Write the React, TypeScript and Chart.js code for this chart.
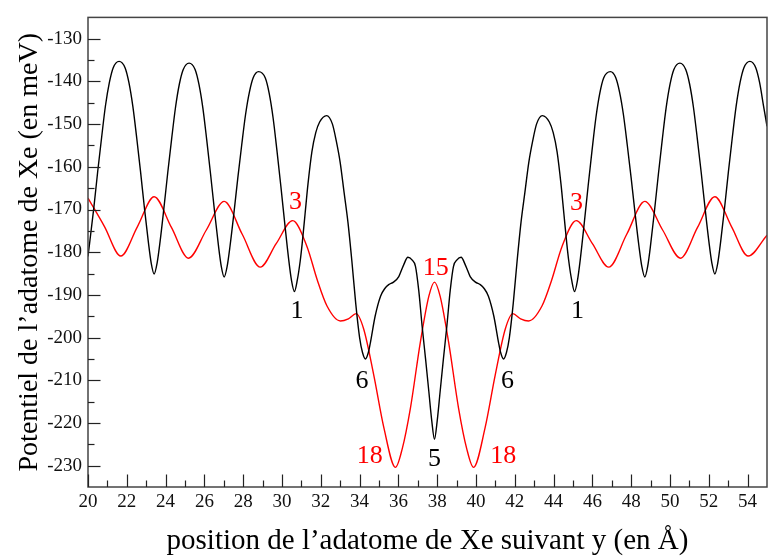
import React, { useEffect, useRef } from "react";
import { Chart, registerables } from "chart.js";

Chart.register(...registerables);

// ---- Data ----
const blackX = [
  20.0, 20.3, 20.5, 20.7, 20.9, 21.1, 21.3, 21.6, 21.91, 22.11, 22.31, 22.51, 22.71, 22.91, 23.11, 23.26, 23.41,
  23.56, 23.71, 23.91, 24.11, 24.31, 24.51, 24.71, 24.91, 25.21, 25.52, 25.72, 25.92, 26.12, 26.32, 26.52, 26.72,
  26.87, 27.02, 27.17, 27.32, 27.52, 27.72, 27.92, 28.12, 28.32, 28.52, 28.79, 29.14, 29.34, 29.54, 29.74, 29.94,
  30.14, 30.34, 30.49, 30.64, 30.79, 30.94, 31.04, 31.19, 31.34, 31.54, 31.74, 31.94, 32.3, 32.6, 32.8, 33.0, 33.2,
  33.4, 33.6, 33.8, 34.0, 34.15, 34.3, 34.45, 34.56, 34.8, 35.08, 35.3, 35.5, 35.75, 36.02, 36.25, 36.49, 36.7,
  36.88, 37.05, 37.22, 37.4, 37.57, 37.72, 37.86,
  38.0, 38.15, 38.32, 38.5, 38.67, 38.84, 39.02, 39.23, 39.47, 39.7, 39.97, 40.22, 40.42, 40.64, 40.92, 41.16,
  41.27, 41.42, 41.57, 41.72, 41.92, 42.12, 42.32, 42.52, 42.72, 42.92, 43.12, 43.42, 43.78, 43.98, 44.18, 44.38,
  44.53, 44.68, 44.78, 44.93, 45.08, 45.23, 45.38, 45.58, 45.78, 45.98, 46.18, 46.38, 46.58, 46.93, 47.2, 47.4,
  47.6, 47.8, 48.0, 48.2, 48.4, 48.55, 48.7, 48.85, 49.0, 49.2, 49.4, 49.6, 49.8, 50.0, 50.2, 50.51, 50.81, 51.01,
  51.21, 51.41, 51.61, 51.81, 52.01, 52.16, 52.31, 52.46, 52.61, 52.81, 53.01, 53.21, 53.41, 53.61, 53.81, 54.12,
  54.42, 54.62, 54.82, 55.0,
];
const blackY = [
  -181, -169.6, -161.1, -153.2, -145.7, -140.3, -136.8, -135.3, -136.8, -140.3, -145.8, -153.2, -161.2, -169.7,
  -177.6, -182.6, -185.1, -182.6, -177.7, -169.8, -161.4, -153.5, -146.1, -140.6, -137.2, -135.7, -137.2, -140.7,
  -146.2, -153.7, -161.8, -170.3, -178.3, -183.3, -185.8, -183.4, -178.6, -170.9, -162.7, -155.0, -147.8, -142.5,
  -139.1, -137.7, -139.2, -142.8, -148.5, -156.2, -164.5, -173.2, -181.5, -186.6, -189.2, -186.5, -182, -178, -171,
  -164, -156.5, -152, -149.5, -148, -150, -154, -159, -166, -173, -182, -192, -200, -203.5, -205, -203.5, -201.1,
  -195, -190.3, -188.5, -187.6, -187, -185.7, -183.2, -181.2, -181.8, -183.3, -189, -197.2, -205, -212.7, -219.5,
  -223.8,
  -219.5, -212.7, -205, -197.2, -189, -183.3, -181.8, -181.2, -183.2, -185.7, -187, -187.6, -188.5, -190.3, -195,
  -201.1, -203.5, -205, -203.5, -200, -192, -182, -173, -166, -159, -154, -150, -148, -149.5, -152, -156.5, -164,
  -171, -178, -182, -186.5, -189.2, -186.6, -181.5, -173.2, -164.5, -156.2, -148.5, -142.8, -139.2, -137.7, -139.1,
  -142.5, -147.8, -155.0, -162.7, -170.9, -178.6, -183.4, -185.8, -183.3, -178.3, -170.3, -161.8, -153.7, -146.2,
  -140.7, -137.2, -135.7, -137.2, -140.6, -146.1, -153.5, -161.4, -169.8, -177.7, -182.6, -185.1, -182.6, -177.6,
  -169.7, -161.2, -153.2, -145.8, -140.3, -136.8, -135.3, -136.8, -140.3, -145.7, -150.5,
];

const redX = [
  20.0, 20.85, 21.69, 22.55, 23.41, 24.3, 25.18, 26.1, 27.02, 27.95, 28.88, 29.7, 30.55, 31.29, 31.81, 32.32, 33.01,
  33.42, 33.82, 34.21, 34.73, 35.25, 35.85, 36.2, 36.62, 37.13, 37.57, 37.86, 38.15, 38.59, 39.1, 39.52, 39.87,
  40.47, 40.99, 41.51, 41.9, 42.3, 42.71, 43.4, 43.91, 44.43, 45.17, 46.0, 46.84, 47.77, 48.7, 49.62, 50.54, 51.42,
  52.31, 53.17, 54.03, 55.0,
];
const redY = [
  -167.3, -174, -180.9, -174, -167.0, -174.2, -181.4, -174.8, -168.1, -175.8, -183.5, -178, -172.6, -178.7, -186.4,
  -192.6, -196.1, -195.6, -194.4, -198, -208.8, -221.1, -230.4, -226, -216.5, -201.1, -190.3, -187.0, -190.3,
  -201.1, -216.5, -226, -230.4, -221.1, -208.8, -198, -194.4, -195.6, -196.1, -192.6, -186.4, -178.7, -172.6, -178,
  -183.5, -175.8, -168.1, -174.8, -181.4, -174.2, -167.0, -174, -180.9, -176.0,
];

const xTickValues = [20, 22, 24, 26, 28, 30, 32, 34, 36, 38, 40, 42, 44, 46, 48, 50, 52, 54];
const xMinorValues = [21, 23, 25, 27, 29, 31, 33, 35, 37, 39, 41, 43, 45, 47, 49, 51, 53];
const yTickValues = [-230, -220, -210, -200, -190, -180, -170, -160, -150, -140, -130];
const yMinorValues = [-225, -215, -205, -195, -185, -175, -165, -155, -145, -135];

const annoText = ["3", "3", "1", "1", "6", "6", "15", "5", "18", "18"];
const annoX = [30.69, 45.18, 30.77, 45.23, 34.13, 41.62, 37.92, 37.86, 34.52, 41.41];
const annoY = [-168.3, -168.5, -193.8, -193.8, -210.3, -210.3, -183.7, -228.5, -227.7, -227.7];
const annoColor = ["#ff0000", "#ff0000", "#000000", "#000000", "#000000", "#000000", "#ff0000", "#000000", "#ff0000", "#ff0000"];

const xTitle = "position de l\u2019adatome de Xe suivant y (en \u00c5)";
const yTitle = "Potentiel de l\u2019adatome de Xe (en meV)";

const SERIF = "'Liberation Serif', 'DejaVu Serif', 'Times New Roman', serif";

const decorPlugin = {
  id: "decor",
  afterDraw(chart: any) {
    const { ctx, chartArea: a, scales } = chart;
    const xs = scales.x;
    const ys = scales.y;
    ctx.save();
    // frame
    ctx.strokeStyle = "#444";
    ctx.lineWidth = 1.5;
    ctx.strokeRect(a.left, a.top, a.right - a.left, a.bottom - a.top);
    // inward ticks
    ctx.strokeStyle = "#222";
    ctx.lineWidth = 1.2;
    const seg = (x1: number, y1: number, x2: number, y2: number) => {
      ctx.beginPath();
      ctx.moveTo(x1, y1);
      ctx.lineTo(x2, y2);
      ctx.stroke();
    };
    xTickValues.forEach((v) => {
      const p = Math.round(xs.getPixelForValue(v)) + 0.5;
      seg(p, a.bottom, p, a.bottom - 12.5);
    });
    xMinorValues.forEach((v) => {
      const p = Math.round(xs.getPixelForValue(v)) + 0.5;
      seg(p, a.bottom, p, a.bottom - 6.5);
    });
    yTickValues.forEach((v) => {
      const p = Math.round(ys.getPixelForValue(v)) + 0.5;
      seg(a.left, p, a.left + 12.5, p);
    });
    yMinorValues.forEach((v) => {
      const p = Math.round(ys.getPixelForValue(v)) + 0.5;
      seg(a.left, p, a.left + 6.5, p);
    });
    // annotations
    ctx.font = `26px ${SERIF}`;
    ctx.textAlign = "center";
    ctx.textBaseline = "middle";
    annoText.forEach((t, i) => {
      ctx.fillStyle = annoColor[i];
      ctx.fillText(t, xs.getPixelForValue(annoX[i]), ys.getPixelForValue(annoY[i]));
    });
    // axis titles
    ctx.fillStyle = "#000";
    ctx.font = `29px ${SERIF}`;
    ctx.fillText(xTitle, (a.left + a.right) / 2, a.bottom + 54);
    ctx.save();
    ctx.font = `28px ${SERIF}`;
    ctx.translate(a.left - 58, (a.top + a.bottom) / 2);
    ctx.rotate(-Math.PI / 2);
    ctx.fillText(yTitle, 0, 0);
    ctx.restore();
    ctx.restore();
  },
};

export default function App() {
  const ref = useRef<HTMLCanvasElement | null>(null);
  useEffect(() => {
    if (!ref.current) return;
    const chart = new Chart(ref.current, {
      type: "line",
      data: {
        datasets: [
          {
            data: blackX.map((x, i) => ({ x, y: blackY[i] })),
            borderColor: "#000000",
            borderWidth: 1.4,
            pointRadius: 0,
            cubicInterpolationMode: "monotone",
          },
          {
            data: redX.map((x, i) => ({ x, y: redY[i] })),
            borderColor: "#ff0000",
            borderWidth: 1.4,
            pointRadius: 0,
            cubicInterpolationMode: "monotone",
          },
        ],
      },
      options: {
        animation: false,
        responsive: false,
        maintainAspectRatio: false,
        layout: { padding: { left: 0, right: 2, top: 10, bottom: 0 } },
        plugins: { legend: { display: false }, tooltip: { enabled: false } },
        scales: {
          x: {
            type: "linear",
            min: 20,
            max: 55,
            grid: { display: false, drawTicks: false },
            border: { display: false },
            afterBuildTicks: (s: any) => {
              s.ticks = xTickValues.map((v) => ({ value: v }));
            },
            afterFit: (s: any) => {
              s.height = 73;
            },
            ticks: {
              autoSkip: false,
              maxRotation: 0,
              padding: 4,
              color: "#111",
              font: { family: SERIF, size: 19 },
            },
          },
          y: {
            type: "linear",
            min: -235,
            max: -125,
            grid: { display: false, drawTicks: false },
            border: { display: false },
            afterBuildTicks: (s: any) => {
              s.ticks = yTickValues.map((v) => ({ value: v }));
            },
            afterFit: (s: any) => {
              s.width = 88;
            },
            ticks: {
              autoSkip: false,
              padding: 6,
              color: "#111",
              font: { family: SERIF, size: 19 },
            },
          },
        },
      } as any,
      plugins: [decorPlugin],
    });
    return () => chart.destroy();
  }, []);
  return (
    <div style={{ position: "absolute", left: 0, top: 0, width: 769, height: 560, background: "#fff" }}>
      <canvas ref={ref} width={769} height={560} style={{ display: "block" }} />
    </div>
  );
}
